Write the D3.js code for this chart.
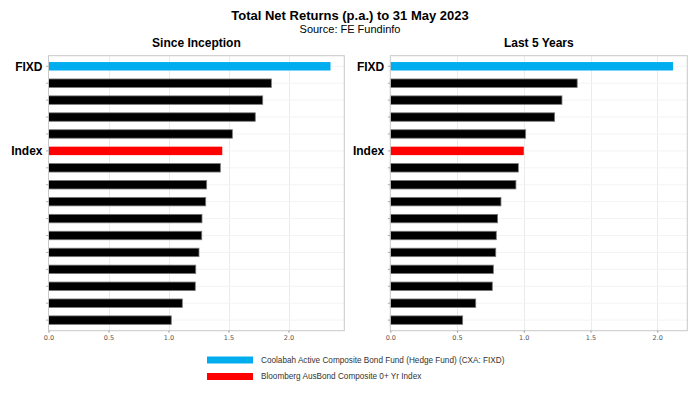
<!DOCTYPE html>
<html><head><meta charset="utf-8">
<script src="https://cdn.jsdelivr.net/npm/d3@7"></script>
<style>body{margin:0;background:#fff}svg{display:block}</style>
</head><body><svg id="c" width="700" height="395"></svg>
<script>
const labels = ["FIXD","","","","","Index","","","","","","","","","",""];
const kinds = ["fund","peer","peer","peer","peer","index","peer","peer","peer","peer","peer","peer","peer","peer","peer","peer"];
const sinceInception = [2.35,1.857,1.785,1.723,1.532,1.448,1.432,1.318,1.31,1.279,1.277,1.254,1.227,1.223,1.115,1.023];
const last5Years = [2.118,1.40,1.286,1.231,1.014,1.0,0.959,0.941,0.829,0.804,0.794,0.79,0.772,0.764,0.64,0.542];
const ticks = [0,0.5,1.0,1.5,2.0];
const legendItems = ["Coolabah Active Composite Bond Fund (Hedge Fund) (CXA: FIXD)","Bloomberg AusBond Composite 0+ Yr Index"];

const colors = {fund:"#00aeef", index:"#ff0000", peer:"#000000"};
const svg = d3.select("#c");

svg.append("text").attr("x",350).attr("y",19.5).attr("text-anchor","middle")
  .style("font-family","Liberation Sans, Arial").style("font-weight","bold").style("font-size","13px")
  .text("Total Net Returns (p.a.) to 31 May 2023");
svg.append("text").attr("x",350).attr("y",32.8).attr("text-anchor","middle")
  .style("font-family","Liberation Sans, Arial").style("font-size","11px")
  .text("Source: FE Fundinfo");

function panel(x0, x1, xmax, values, title){
  const top = 55.7, bottom = 330.7;
  const x = d3.scaleLinear().domain([0,xmax]).range([x0,x1]);
  const idx = d3.range(values.length);
  const y = d3.scaleBand().domain(idx).range([top,bottom]).paddingInner(0.5).paddingOuter(0.375);
  const g = svg.append("g");
  g.append("text").attr("x",(x0+x1)/2).attr("y",47.3).attr("text-anchor","middle")
    .style("font-family","Liberation Sans, Arial").style("font-weight","bold").style("font-size","12px")
    .text(title);
  // grid
  g.selectAll(".vg").data(ticks.slice(1)).join("line")
    .attr("x1",d=>Math.round(x(d))+0.5).attr("x2",d=>Math.round(x(d))+0.5).attr("y1",top).attr("y2",bottom)
    .attr("stroke","#ebebeb").attr("stroke-width",1);
  g.selectAll(".hg").data(idx).join("line")
    .attr("x1",x0).attr("x2",x1).attr("y1",d=>y(d)+y.bandwidth()/2).attr("y2",d=>y(d)+y.bandwidth()/2)
    .attr("stroke","#f3f3f3").attr("stroke-width",1);
  // bars
  g.selectAll(".bar").data(idx).join("rect")
    .attr("x",x(0)).attr("y",d=>y(d)).attr("width",d=>x(values[d])-x(0)).attr("height",y.bandwidth())
    .attr("fill",d=>colors[kinds[d]])
    .attr("stroke",d=>kinds[d]==="peer"?"#777":"none").attr("stroke-width",0.8);
  // border
  g.append("rect").attr("x",x0).attr("y",top).attr("width",x1-x0).attr("height",bottom-top)
    .attr("fill","none").attr("stroke","#c8c8c8").attr("stroke-width",1);
  // y ticks
  g.selectAll(".yt").data(idx).join("line")
    .attr("x1",x0-2.5).attr("x2",x0).attr("y1",d=>y(d)+y.bandwidth()/2).attr("y2",d=>y(d)+y.bandwidth()/2)
    .attr("stroke","#999").attr("stroke-width",0.8);
  g.selectAll(".yl").data(idx.filter(i=>labels[i])).join("text")
    .attr("x",x0-6).attr("y",d=>y(d)+y.bandwidth()/2).attr("dy","0.36em").attr("text-anchor","end")
    .style("font-family","Liberation Sans, Arial").style("font-weight","bold").style("font-size","12px")
    .text(d=>labels[d]);
  // x axis
  const ax = g.append("g").attr("transform",`translate(0,${bottom})`)
    .call(d3.axisBottom(x).tickValues(ticks).tickFormat(d3.format(".1f")).tickSize(2).tickPadding(3));
  ax.select(".domain").remove();
  ax.selectAll("line").attr("stroke","#999");
  ax.selectAll("text").style("font-family","DejaVu Sans, Verdana").style("font-size","6.5px").style("fill","#555");
}
panel(48.5, 344.3, 2.465, sinceInception, "Since Inception");
panel(390.3, 687.3, 2.225, last5Years, "Last 5 Years");

const lg = svg.append("g");
const cols = [colors.fund, colors.index];
legendItems.forEach((t,i)=>{
  lg.append("rect").attr("x",207).attr("y",356.5+i*16.5).attr("width",46).attr("height",7).attr("fill",cols[i]);
  lg.append("text").attr("x",261).attr("y",360+i*16.5).attr("dy","0.35em")
    .style("font-family","Liberation Sans, Arial").style("font-size","8.2px").attr("fill","#333").text(t);
});
</script></body></html>
